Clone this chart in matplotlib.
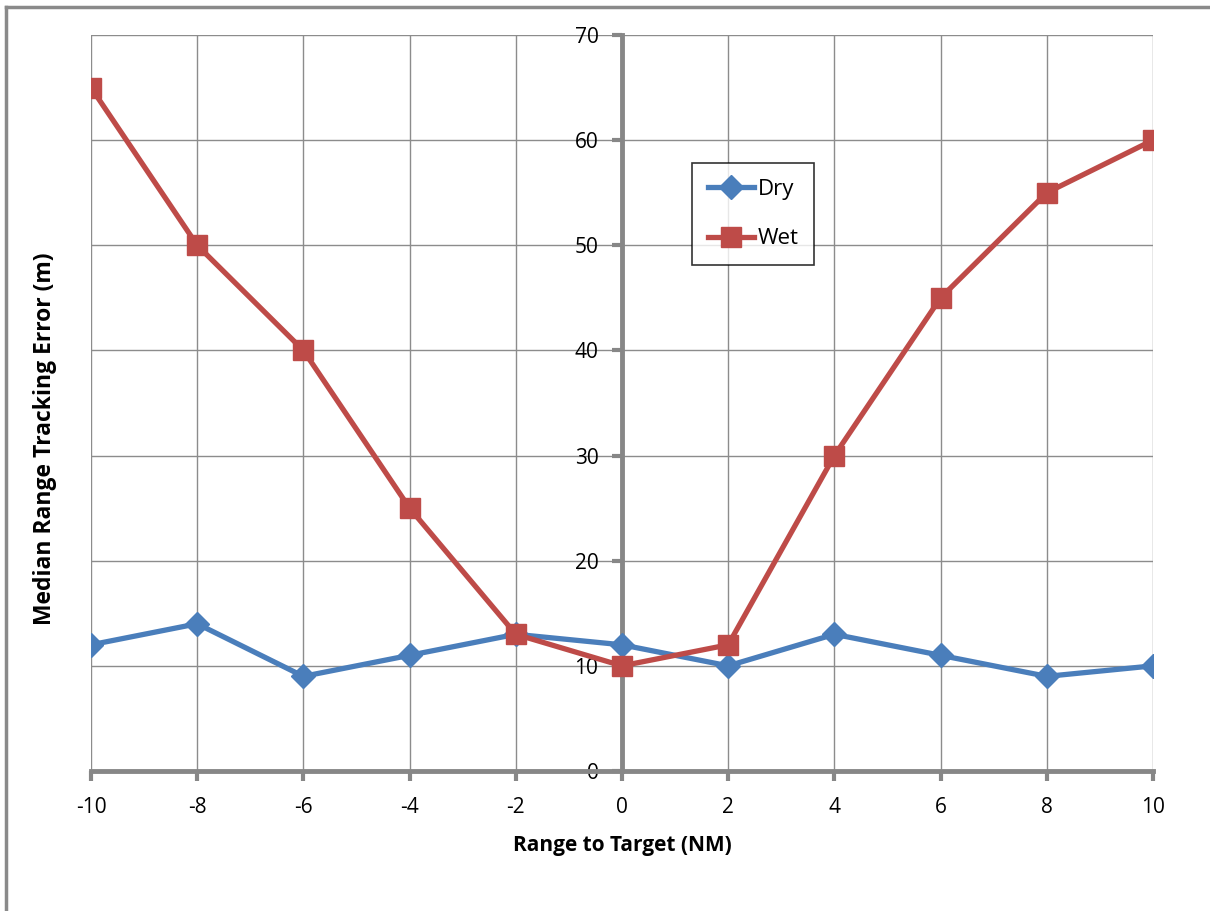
import matplotlib
matplotlib.use("Agg")
import matplotlib.pyplot as plt
from matplotlib.lines import Line2D
import matplotlib.transforms as mtransforms

# data
ranges = [-10, -8, -6, -4, -2, 0, 2, 4, 6, 8, 10]
dry = [12, 14, 9, 11, 13, 12, 10, 13, 11, 9, 10]
wet = [65, 50, 40, 25, 13, 10, 12, 30, 45, 55, 60]

plt.rcParams['font.family'] = ['Open Sans', 'DejaVu Sans']
plt.rcParams['axes.unicode_minus'] = False

fig = plt.figure(figsize=(12.1, 9.11), dpi=100)
ax = fig.add_axes([0.0752, 0.1537, 0.9529 - 0.0752, 0.9616 - 0.1537])

ax.plot(ranges, dry, color='#4A7EBB', lw=3.8, marker='D', ms=12, label='Dry', zorder=3)
ax.plot(ranges, wet, color='#BE4B48', lw=3.8, marker='s', ms=15, label='Wet', zorder=3)

ax.set_xlim(-10, 10)
ax.set_ylim(0, 70)
ax.set_xticks(range(-10, 11, 2))
ax.set_yticks(range(0, 71, 10))
ax.grid(True, color='#8c8c8c', lw=1.0)
ax.set_axisbelow(True)

for s in ['top', 'right']:
    ax.spines[s].set_visible(False)
ax.spines['left'].set_position(('data', 0))
ax.spines['left'].set_color('#878787')
ax.spines['left'].set_linewidth(3.5)
ax.spines['bottom'].set_color('#878787')
ax.spines['bottom'].set_linewidth(3.5)
ax.spines['left'].set_zorder(2)

ax.tick_params(axis='both', colors='#878787', width=3, length=7, labelsize=15, labelcolor='black')
ax.tick_params(axis='y', pad=10)
ax.tick_params(axis='x', pad=12)

ax.set_xlabel('Range to Target (NM)', fontsize=15, fontweight='bold', labelpad=12)
ax.set_ylabel('Median Range Tracking Error (m)', fontsize=16.5, fontweight='bold')
ax.yaxis.set_label_coords(57 / 1210, 0.452,
                          transform=mtransforms.blended_transform_factory(fig.transFigure, ax.transAxes))

leg = ax.legend(loc='upper left', bbox_to_anchor=(0.566, 0.826), fontsize=16,
                frameon=True, fancybox=False, edgecolor='black', borderpad=0.7,
                labelspacing=1.3, handlelength=2.1, handletextpad=0.15, borderaxespad=0)
leg.get_frame().set_linewidth(1.2)

# outer frame edges visible in the reference (left and top)
fig.add_artist(Line2D([6 / 1210, 6 / 1210], [0, 1 - 7 / 911], transform=fig.transFigure, color='#8a8a8a', lw=2.5))
fig.add_artist(Line2D([6 / 1210, 1], [1 - 7 / 911, 1 - 7 / 911], transform=fig.transFigure, color='#8a8a8a', lw=2.5))

fig.savefig('out.png', dpi=100)
